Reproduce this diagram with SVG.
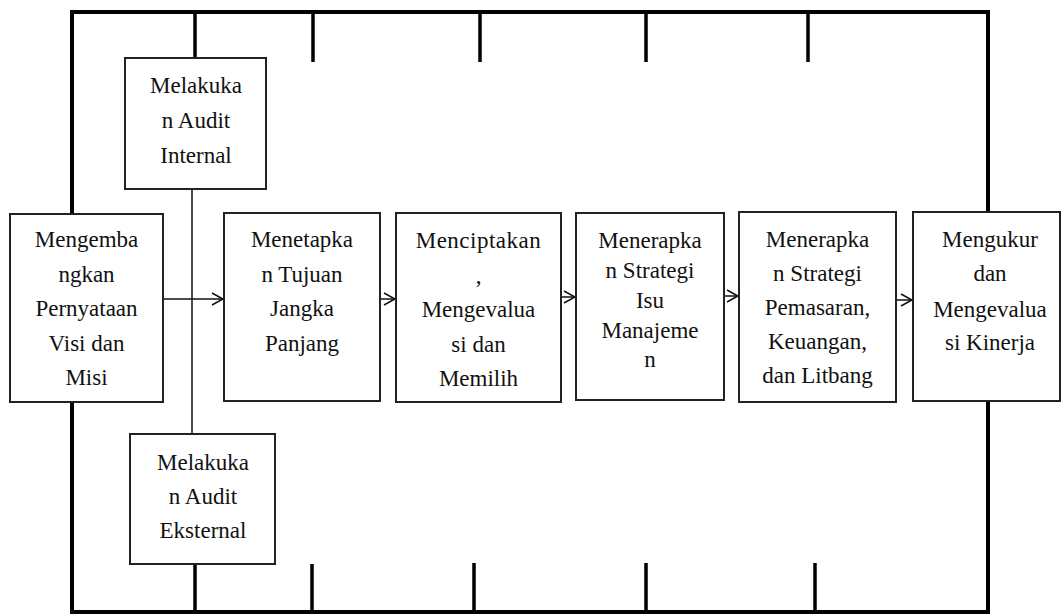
<svg xmlns="http://www.w3.org/2000/svg" width="1062" height="614" viewBox="0 0 1062 614">
<style>
.frame{stroke:#000;stroke-width:4;fill:none;stroke-linecap:square}
.tick{stroke:#000;stroke-width:3.5;fill:none}
.thin{stroke:#111;stroke-width:1.5;fill:none}
.box{fill:#fff;stroke:#222;stroke-width:2}
.t{font-family:"Liberation Serif","Times New Roman",serif;font-size:23px;fill:#111;text-anchor:middle}
.arr{stroke:#111;stroke-width:1.5;fill:none}
</style>
<defs>
<marker id="ah" markerWidth="14" markerHeight="14" refX="12" refY="7" orient="auto" markerUnits="userSpaceOnUse">
<path d="M1,1 L12,7 L1,13" fill="none" stroke="#111" stroke-width="1.5"/>
</marker>
</defs>
<g id="connectors">
<path class="frame" d="M72,12 H988 M72,12 V612 M988,12 V612 M72,612 H988"/>
<path class="tick" d="M195,12 V58 M313,12 V62 M480,12 V62 M646,12 V62 M808,12 V62"/>
<path class="tick" d="M195,564 V612 M312,564 V612 M474,563 V612 M646,563 V612 M815,563 V612"/>
<path class="thin" d="M192,189 V434"/>
<line class="arr" x1="163" y1="299" x2="223" y2="299" marker-end="url(#ah)"/>
<line class="arr" x1="380" y1="299" x2="395" y2="299" marker-end="url(#ah)"/>
<line class="arr" x1="561" y1="297" x2="575" y2="297" marker-end="url(#ah)"/>
<line class="arr" x1="724" y1="296" x2="738" y2="296" marker-end="url(#ah)"/>
<line class="arr" x1="896" y1="300" x2="912" y2="300" marker-end="url(#ah)"/>
</g>
<g id="n1">
<rect class="box" x="10" y="214" width="153" height="188"/>
<text class="t" x="86.5" y="247">Mengemba</text>
<text class="t" x="86.5" y="281.5">ngkan</text>
<text class="t" x="86.5" y="316">Pernyataan</text>
<text class="t" x="86.5" y="350.5">Visi dan</text>
<text class="t" x="86.5" y="385">Misi</text>
</g>
<g id="n_internal">
<rect class="box" x="125" y="58" width="141" height="131"/>
<text class="t" x="196" y="93">Melakuka</text>
<text class="t" x="196" y="128">n Audit</text>
<text class="t" x="196" y="163">Internal</text>
</g>
<g id="n_eksternal">
<rect class="box" x="130" y="434" width="145" height="130"/>
<text class="t" x="203" y="470">Melakuka</text>
<text class="t" x="203" y="504">n Audit</text>
<text class="t" x="203" y="538">Eksternal</text>
</g>
<g id="n2">
<rect class="box" x="224" y="213" width="156" height="188"/>
<text class="t" x="302" y="247">Menetapka</text>
<text class="t" x="302" y="281.5">n Tujuan</text>
<text class="t" x="302" y="316">Jangka</text>
<text class="t" x="302" y="350.5">Panjang</text>
</g>
<g id="n3">
<rect class="box" x="396" y="213" width="165" height="189"/>
<text class="t" x="478.5" y="248" letter-spacing="0.5">Menciptakan</text>
<text class="t" x="478.5" y="282.5">,</text>
<text class="t" x="478.5" y="317">Mengevalua</text>
<text class="t" x="478.5" y="351.5">si dan</text>
<text class="t" x="478.5" y="386">Memilih</text>
</g>
<g id="n4">
<rect class="box" x="576" y="213" width="148" height="187"/>
<text class="t" x="650" y="248">Menerapka</text>
<text class="t" x="650" y="278">n Strategi</text>
<text class="t" x="650" y="308">Isu</text>
<text class="t" x="650" y="338">Manajeme</text>
<text class="t" x="650" y="367">n</text>
</g>
<g id="n5">
<rect class="box" x="739" y="212" width="157" height="190"/>
<text class="t" x="817.5" y="247">Menerapka</text>
<text class="t" x="817.5" y="281">n Strategi</text>
<text class="t" x="817.5" y="315">Pemasaran,</text>
<text class="t" x="817.5" y="349">Keuangan,</text>
<text class="t" x="817.5" y="383">dan Litbang</text>
</g>
<g id="n6">
<rect class="box" x="913" y="212" width="147" height="189"/>
<text class="t" x="990" y="247">Mengukur</text>
<text class="t" x="990" y="281">dan</text>
<text class="t" x="990" y="317">Mengevalua</text>
<text class="t" x="990" y="350">si Kinerja</text>
</g>
</svg>
